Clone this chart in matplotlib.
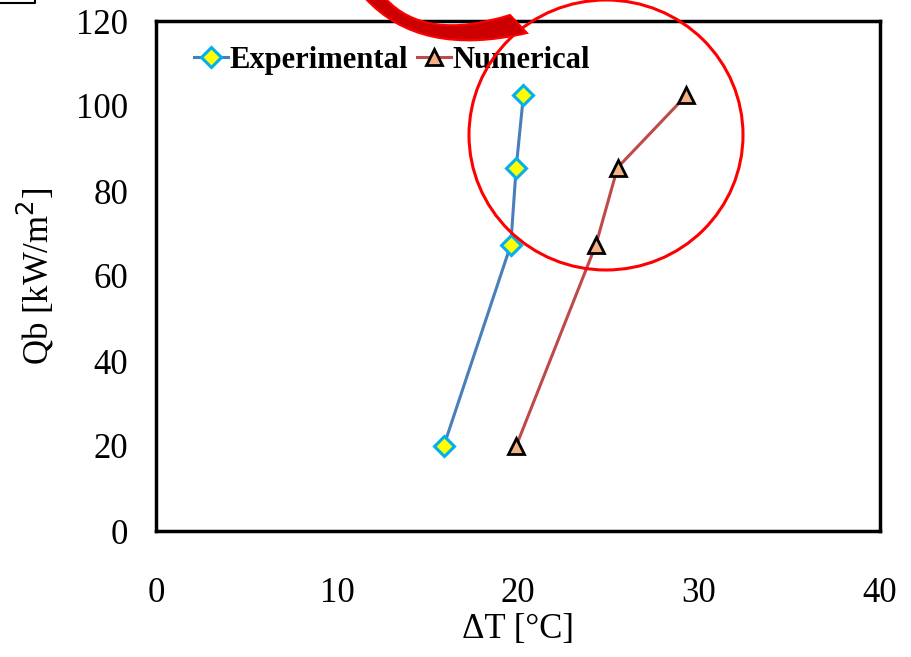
import matplotlib
matplotlib.use("Agg")
import matplotlib.pyplot as plt
from matplotlib.patches import Ellipse, PathPatch
from matplotlib.path import Path
from matplotlib.lines import Line2D

# Data
qb = [20, 67.3, 85.5, 102.5]
dt_exp = [15.9, 19.6, 19.9, 20.3]
dt_num = [19.9, 24.3, 25.5, 29.3]
x_ticks = [0, 10, 20, 30, 40]
y_ticks = [0, 20, 40, 60, 80, 100, 120]

W, H = 911, 657
fig = plt.figure(figsize=(W / 100, H / 100), dpi=100)
ax = fig.add_axes([156 / W, 1 - 531 / H, (880 - 156) / W, (531 - 21) / H])

ax.plot(dt_exp, qb, color="#4a7ebb", lw=2.2, marker="D", ms=10,
        mfc="#ffff00", mec="#00b0f0", mew=2.2, label="Experimental")
ax.plot(dt_num, qb, color="#be4b48", lw=2.2, marker="^", ms=12,
        mfc="#f4b183", mec="black", mew=2, label="Numerical")

ax.set_xlim(0, 40)
ax.set_ylim(0, 120)
ax.set_xticks(x_ticks)
ax.set_yticks(y_ticks)
serif = "Liberation Serif"
ax.tick_params(length=0, labelsize=25)
ax.tick_params(axis="y", pad=20)
ax.tick_params(axis="x", pad=33)
for lab in ax.get_xticklabels() + ax.get_yticklabels():
    lab.set_fontfamily(serif)
for s in ax.spines.values():
    s.set_linewidth(2.5)
    s.set_color("black")

ax.set_xlabel("ΔT [°C]", fontsize=25, fontfamily=serif, labelpad=2)
ax.set_ylabel("Qb [kW/m$^2$]", fontsize=25, fontfamily=serif, labelpad=14)

leg = ax.legend(loc="upper left", bbox_to_anchor=(0.036, 0.975), ncol=2,
                frameon=False, handlelength=1.1, handletextpad=0.05,
                columnspacing=0.3, borderaxespad=0,
                prop={"family": serif, "weight": "bold", "size": 22})

# Red circle annotation (figure pixel coordinates)
circ = Ellipse((606 / W, 1 - 135 / H), 2 * 137 / W, 2 * 135 / H,
               transform=fig.transFigure, fill=False, edgecolor="#ff0000",
               lw=2.2, zorder=10)
fig.patches.append(circ)

# Curved red arrow band
def P(x, y):
    return (x / W, 1 - y / H)

verts = [P(365, -2), P(420, 58), P(527, 33), P(510, 15), P(425, 42), P(385, -2), P(365, -2)]
codes = [Path.MOVETO, Path.CURVE3, Path.CURVE3, Path.LINETO, Path.CURVE3, Path.CURVE3, Path.CLOSEPOLY]
band = PathPatch(Path(verts, codes), transform=fig.transFigure,
                 facecolor="#cc0000", edgecolor="#ff0000", lw=1.5, zorder=11)
fig.patches.append(band)

# Small mark at top-left
fig.lines.append(Line2D([0, 35 / W, 35 / W], [1 - 3 / H, 1 - 3 / H, 1],
                        transform=fig.transFigure, color="black", lw=1.5))

fig.savefig("out.png", dpi=100)
